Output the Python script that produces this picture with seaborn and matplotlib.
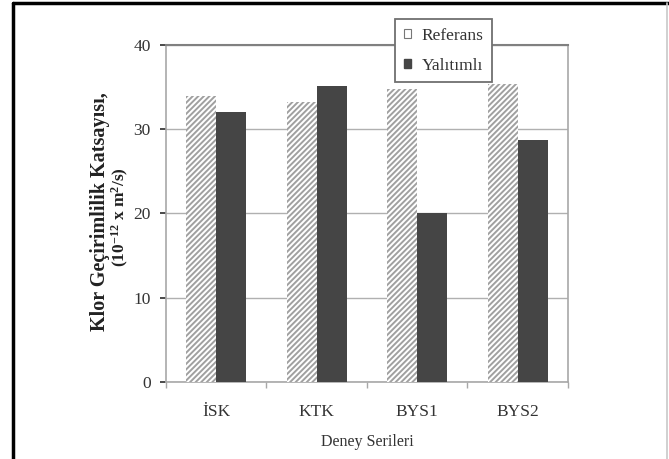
import matplotlib
matplotlib.use("Agg")
import matplotlib.pyplot as plt
from matplotlib.lines import Line2D
from matplotlib.patches import Patch
import pandas as pd
import seaborn as sns

series = ["İSK", "KTK", "BYS1", "BYS2"]
referans = [33.9, 33.2, 34.8, 35.4]
yalitimli = [32.0, 35.1, 20.1, 28.7]
groups = ["Referans", "Yalıtımlı"]
y_ticks = [0, 10, 20, 30, 40]

df = pd.DataFrame({
    "seri": series * 2,
    "grup": [groups[0]] * len(series) + [groups[1]] * len(series),
    "deger": referans + yalitimli,
})

sns.set_theme(style="white")
plt.rcParams["font.family"] = ["Liberation Serif", "DejaVu Serif"]
plt.rcParams["mathtext.fontset"] = "custom"
plt.rcParams["mathtext.rm"] = "Liberation Serif:bold"
plt.rcParams["mathtext.default"] = "rm"
plt.rcParams["hatch.linewidth"] = 1.4

fig = plt.figure(figsize=(6.69, 4.59), dpi=100)
ax = fig.add_axes([0.248, 0.168, 0.601, 0.734])

sns.barplot(data=df, x="seri", y="deger", hue="grup", hue_order=groups,
            palette=["white", "#454545"], width=0.6, gap=0, saturation=1,
            ax=ax, legend=False, zorder=3)

for bar in ax.containers[0]:
    bar.set_hatch("//////")
    bar.set_edgecolor("#a0a0a0")
    bar.set_linewidth(0)
for bar in ax.containers[1]:
    bar.set_edgecolor("#454545")
    bar.set_linewidth(0)

ax.set_ylim(0, 40)
ax.set_xlim(-0.5, 3.5)
ax.set_yticks(y_ticks)
ax.yaxis.grid(True, color="#b0b0b0", linewidth=1)
ax.set_axisbelow(True)
for side in ["left", "right", "bottom"]:
    ax.spines[side].set_color("#a8a8a8")
    ax.spines[side].set_linewidth(1.2)
ax.spines["top"].set_color("#808080")
ax.spines["top"].set_linewidth(1.5)

ax.set_xticks([-0.5, 0.5, 1.5, 2.5, 3.5], minor=True)
ax.tick_params(axis="x", which="major", length=0, pad=16, labelsize=12.5)
ax.tick_params(axis="x", which="minor", length=4, color="#a8a8a8", direction="out", bottom=True)
ax.tick_params(axis="y", length=4, color="#a8a8a8", direction="out", left=True, labelsize=12.5, pad=7)
ax.tick_params(colors="#333333", which="both", labelcolor="#333333")
ax.tick_params(axis="x", which="minor", colors="#a8a8a8")

ax.set_xlabel("Deney Serileri", fontsize=11.5, color="#333333", labelpad=10)
ax.set_ylabel("")
# y label: first line larger than the unit line
ax.text(-0.163, 0.505, "Klor Geçirimlilik Katsayısı,", transform=ax.transAxes,
        rotation=90, ha="center", va="center", fontsize=14.5, fontweight="bold",
        color="#222222")
ax.text(-0.112, 0.49, "(10$^{-12}$ x m$^{2}$/s)", transform=ax.transAxes,
        rotation=90, ha="center", va="center", fontsize=12.5, fontweight="bold",
        color="#222222")

handles = [Patch(facecolor="white", edgecolor="#777777", linewidth=0.8),
           Patch(facecolor="#454545", edgecolor="#454545")]
leg = fig.legend(handles, groups, loc="upper center", bbox_to_anchor=(0.663, 0.977),
                 frameon=True, fancybox=False, framealpha=1, edgecolor="#707070",
                 fontsize=12.5, handlelength=0.4, handleheight=0.4, handletextpad=0.6,
                 labelspacing=0.8, borderpad=0.5, labelcolor="#333333")
leg.get_frame().set_linewidth(1.3)

fig.add_artist(Line2D([0.019, 1.0], [0.993, 0.993], color="black", linewidth=2.5))
fig.add_artist(Line2D([0.019, 0.019], [0.0, 0.993], color="black", linewidth=2.5))
fig.add_artist(Line2D([0.997, 0.997], [0.0, 0.993], color="#c8c8c8", linewidth=1.2))

fig.savefig("out.png", dpi=100)
